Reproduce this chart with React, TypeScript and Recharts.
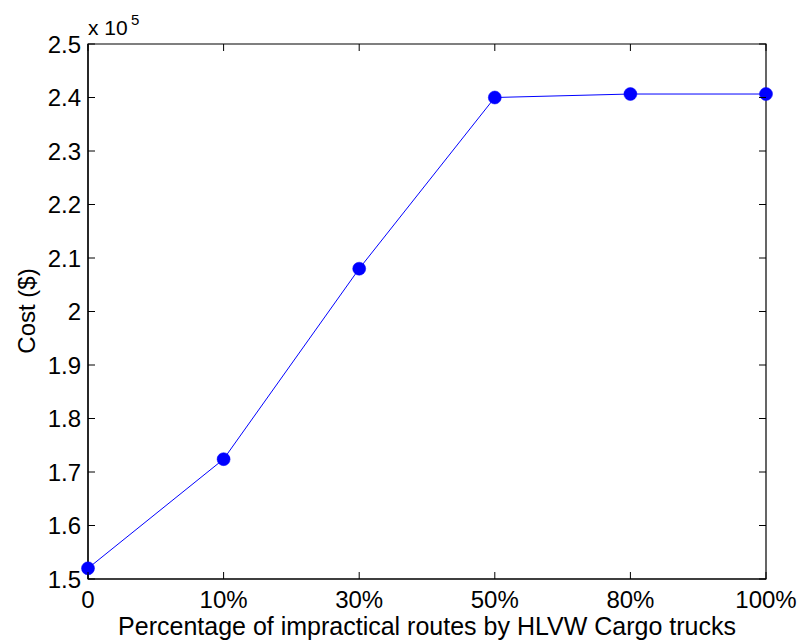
import React from 'react';
import { LineChart, Line, XAxis, YAxis, Label, ReferenceArea } from 'recharts';

const categories = ['0', '10%', '30%', '50%', '80%', '100%'];
const costValues = [152000, 172400, 208000, 240000, 240650, 240650];
const yTickValues = [150000, 160000, 170000, 180000, 190000, 200000, 210000, 220000, 230000, 240000, 250000];

const data = categories.map((c, i) => ({ category: c, cost: costValues[i] }));

const W = 799;
const H = 643;
const PLOT_TOP = 44;
const PLOT_RIGHT = 766;
const PLOT_LEFT = 88;
const PLOT_BOTTOM = 579;
const TICK_LEN = 7;
const FONT = '"Liberation Sans", Arial, Helvetica, sans-serif';

const fmtY = (v: number) => {
  const s = (v / 1e5).toFixed(1);
  return s.endsWith('.0') ? s.slice(0, -2) : s;
};

const XTick = (props: any) => {
  const { x, payload } = props;
  return (
    <g>
      <line x1={x} y1={PLOT_BOTTOM} x2={x} y2={PLOT_BOTTOM - TICK_LEN} stroke="#000" strokeWidth={1} />
      <line x1={x} y1={PLOT_TOP} x2={x} y2={PLOT_TOP + TICK_LEN} stroke="#000" strokeWidth={1} />
      <text x={x} y={PLOT_BOTTOM + 29} textAnchor="middle" fontSize={24} fontFamily={FONT} fill="#000">
        {payload.value}
      </text>
    </g>
  );
};

const YTick = (props: any) => {
  const { y, payload } = props;
  return (
    <g>
      <line x1={PLOT_LEFT} y1={y} x2={PLOT_LEFT + TICK_LEN} y2={y} stroke="#000" strokeWidth={1} />
      <line x1={PLOT_RIGHT} y1={y} x2={PLOT_RIGHT - TICK_LEN} y2={y} stroke="#000" strokeWidth={1} />
      <text x={81} y={y + 8.5} textAnchor="end" fontSize={24} fontFamily={FONT} fill="#000">
        {fmtY(payload.value)}
      </text>
    </g>
  );
};

const YLabel = () => (
  <g>
    <text
      x={35}
      y={311}
      transform="rotate(-90 35 311)"
      textAnchor="middle"
      fontSize={24}
      fontFamily={FONT}
      fill="#000"
    >
      Cost ($)
    </text>
    <text x={88} y={35} fontSize={21} fontFamily={FONT} fill="#000">
      x 10
    </text>
    <text x={131} y={25} fontSize={15} fontFamily={FONT} fill="#000">
      5
    </text>
  </g>
);

const XLabel = () => (
  <text x={427} y={635} textAnchor="middle" fontSize={25} fontFamily={FONT} fill="#000">
    Percentage of impractical routes by HLVW Cargo trucks
  </text>
);

export default function App() {
  return (
    <div style={{ position: 'absolute', left: 0, top: 0, width: W, height: H, background: '#fff' }}>
      <LineChart width={W} height={H} data={data} margin={{ top: PLOT_TOP, right: W - PLOT_RIGHT, left: 0, bottom: 0 }}>
        <XAxis
          dataKey="category"
          height={H - PLOT_BOTTOM}
          padding={{ left: 0, right: 0 }}
          tickSize={0}
          tickMargin={0}
          tickLine={false}
          tick={<XTick />}
          interval={0}
          axisLine={{ stroke: '#000', strokeWidth: 1.2 }}
        >
          <Label content={<XLabel />} />
        </XAxis>
        <YAxis
          type="number"
          domain={[150000, 250000]}
          ticks={yTickValues}
          width={PLOT_LEFT}
          tickSize={0}
          tickMargin={0}
          tickLine={false}
          tick={<YTick />}
          interval={0}
          axisLine={{ stroke: '#000', strokeWidth: 1.2 }}
        >
          <Label content={<YLabel />} />
        </YAxis>
        <ReferenceArea
          x1={categories[0]}
          x2={categories[categories.length - 1]}
          y1={150000}
          y2={250000}
          fill="none"
          fillOpacity={0}
          stroke="#000"
          strokeWidth={1.2}
          ifOverflow="visible"
        />
        <Line
          type="linear"
          dataKey="cost"
          stroke="#0000ff"
          strokeWidth={1}
          dot={{ r: 6.5, fill: '#0000ff', stroke: '#0000ff', strokeWidth: 0.5 }}
          activeDot={false}
          isAnimationActive={false}
        />
      </LineChart>
    </div>
  );
}
